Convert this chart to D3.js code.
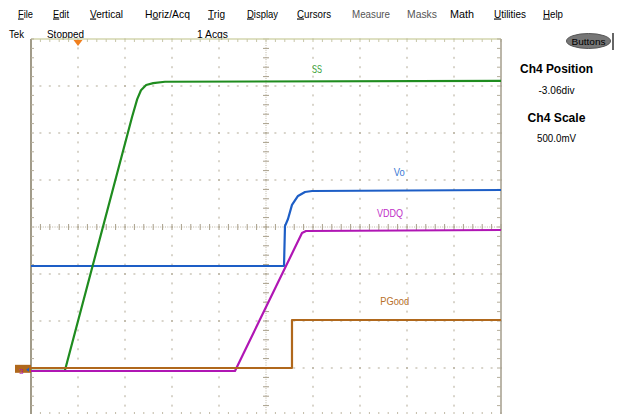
<!DOCTYPE html>
<html><head><meta charset="utf-8">
<script src="https://cdn.jsdelivr.net/npm/d3@7"></script>
<style>
html,body{margin:0;padding:0;background:#fff;}
svg{display:block;}
text{font-family:"Liberation Sans Narrow","Liberation Sans",Arial,sans-serif;}
</style></head>
<body>
<svg id="c" width="618" height="414"></svg>
<script>
// ---- data (x in horizontal divisions 0..10, y in vertical divisions -4..4) ----
const ssX    = [0, 0.72, 2.15, 2.26, 2.34, 2.45, 2.60, 2.85, 10];
const ssY    = [-3.06, -3.06, 2.34, 2.72, 2.91, 3.02, 3.06, 3.09, 3.11];
const voX    = [0, 5.383, 5.404, 5.468, 5.553, 5.681, 5.830, 5.979, 10];
const voY    = [-0.83, -0.83, 0.02, 0.17, 0.47, 0.66, 0.745, 0.766, 0.787];
const vddqX  = [0, 4.34, 5.766, 5.851, 10];
const vddqY  = [-3.064, -3.064, -0.128, -0.085, -0.064];
const pgX    = [0, 5.553, 5.553, 10];
const pgY    = [-3.0, -3.0, -1.979, -1.979];
const seriesNames = ["SS", "Vo", "VDDQ", "PGood"];
const labelPos = [[5.98, 3.28], [7.72, 1.08], [7.36, 0.21], [7.43, -1.66]]; // label anchor (div units)
const menuLabels = ["File","Edit","Vertical","Horiz/Acq","Trig","Display","Cursors","Measure","Masks","Math","Utilities","Help"];
const menuUnderline = [0,0,0,1,0,0,0,-1,-1,-1,0,0];
const statusTexts = ["Tek","Stopped","1 Acqs"];
const infoTitles = ["Ch4 Position","Ch4 Scale"];
const infoValues = ["-3.06div","500.0mV"];
const triggerPos = 1; // division

// ---- layout ----
const L = {left:31, right:501, top:39, bottom:415};
const menuLayout = [[18,15],[53,16],[90,33],[145,45],[208,17],[247,31],[297,34],[352,38],[407,30],[450,24],[494,32],[543,20]];
const colors = {SS:"#1f8c1f", Vo:"#1d5ec6", VDDQ:"#b016b4", PGood:"#b0681c"};
const labelColors = {SS:"#35a035", Vo:"#3a78d4", VDDQ:"#c030c8", PGood:"#b8702a"};

const svg = d3.select("#c");
const x = d3.scaleLinear().domain([0,10]).range([L.left, L.right]);
const y = d3.scaleLinear().domain([-4,4]).range([L.bottom, L.top]);

// ---- menu bar ----
menuLabels.forEach((m,i)=>{
  const t = svg.append("text").attr("x", menuLayout[i][0]).attr("y", 17.5)
    .attr("font-size", (i===7||i===8)?10:11)
    .attr("fill", (i===7||i===8)?"#555":"#000")
    .attr("textLength", menuLayout[i][1]).attr("lengthAdjust","spacingAndGlyphs");
  const u = menuUnderline[i];
  if (u < 0) { t.text(m); }
  else {
    if (u>0) t.append("tspan").text(m.slice(0,u));
    t.append("tspan").style("text-decoration","underline").text(m[u]);
    t.append("tspan").text(m.slice(u+1));
  }
});
// status row
const stLayout = [[9,15],[47,37],[197,31]];
statusTexts.forEach((s,i)=>{
  svg.append("text").attr("x",stLayout[i][0]).attr("y",37.5).attr("font-size",10.5)
    .attr("textLength",stLayout[i][1]).attr("lengthAdjust","spacingAndGlyphs").text(s);
});

// ---- right panel ----
svg.append("ellipse").attr("cx",588.5).attr("cy",41).attr("rx",22).attr("ry",7.5)
  .attr("fill","#767676").attr("stroke","#555").attr("stroke-width",1);
svg.append("text").attr("x",588.5).attr("y",44.5).attr("text-anchor","middle").attr("font-size",9.5)
  .attr("textLength",34).attr("lengthAdjust","spacingAndGlyphs").text("Buttons");
svg.append("line").attr("x1",613).attr("x2",613).attr("y1",33).attr("y2",50).attr("stroke","#333").attr("stroke-width",1.5);
const infoY = [[73,94],[122,142]];
const infoW = [[73,36],[58,39]];
infoTitles.forEach((t,i)=>{
  svg.append("text").attr("x",556.5).attr("y",infoY[i][0]).attr("text-anchor","middle")
    .attr("font-family","Liberation Sans, Arial, sans-serif").attr("font-weight","bold").attr("font-size",12)
    .attr("textLength",infoW[i][0]).attr("lengthAdjust","spacingAndGlyphs").text(t);
  svg.append("text").attr("x",556.5).attr("y",infoY[i][1]).attr("text-anchor","middle").attr("font-size",10.5)
    .attr("textLength",infoW[i][1]).attr("lengthAdjust","spacingAndGlyphs").text(infoValues[i]);
});

// ---- graticule ----
const g = svg.append("g");
const minor = d3.range(0, 50.001, 1).map(d=>d/5); // 0..10 step .2
const minorV = d3.range(-20, 20.001, 1).map(d=>d/5);
const dotC = "#b2aa96";
[1,2,3,4,6,7,8,9].forEach(k=>{
  g.selectAll(null).data(minorV).enter().append("rect")
   .attr("x", x(k)-0.5).attr("y", d=>y(d)-1).attr("width",1).attr("height",2).attr("fill",dotC);
});
[-3,-2,-1,1,2,3].forEach(k=>{
  g.selectAll(null).data(minor).enter().append("rect")
   .attr("x", d=>x(d)-1).attr("y", y(k)-0.5).attr("width",2).attr("height",1).attr("fill",dotC);
});
// center axes
g.append("line").attr("x1",x(0)).attr("x2",x(10)).attr("y1",y(0)).attr("y2",y(0))
  .attr("stroke","#bdb5a2").attr("stroke-dasharray","1 1.35");
g.append("line").attr("x1",x(5)).attr("x2",x(5)).attr("y1",y(-4)).attr("y2",y(4))
  .attr("stroke","#bdb5a2").attr("stroke-dasharray","1 1.35");
g.selectAll(null).data(minor).enter().append("line")
  .attr("x1",d=>x(d)).attr("x2",d=>x(d)).attr("y1",y(0)-3).attr("y2",y(0)+3)
  .attr("stroke","#a89f8a").attr("stroke-width",1);
g.selectAll(null).data(minorV).enter().append("line")
  .attr("y1",d=>y(d)).attr("y2",d=>y(d)).attr("x1",x(5)-3).attr("x2",x(5)+3)
  .attr("stroke","#a89f8a").attr("stroke-width",1);
// frame
g.append("line").attr("x1",x(0)).attr("x2",x(10)).attr("y1",y(4)).attr("y2",y(4)).attr("stroke","#d3d6ae").attr("stroke-width",1.5);
g.selectAll(null).data(minor).enter().append("line")
  .attr("x1",d=>x(d)).attr("x2",d=>x(d)).attr("y1",y(4)).attr("y2",y(4)+3).attr("stroke","#c8c6a8");
g.selectAll(null).data(minor).enter().append("line")
  .attr("x1",d=>x(d)).attr("x2",d=>x(d)).attr("y1",y(-4)).attr("y2",y(-4)-3).attr("stroke","#c0b9a6");
g.append("line").attr("x1",x(0)).attr("x2",x(0)).attr("y1",y(4)).attr("y2",414).attr("stroke","#a19b89").attr("stroke-width",2);
g.selectAll(null).data(minorV).enter().append("line")
  .attr("y1",d=>y(d)).attr("y2",d=>y(d)).attr("x1",x(0)).attr("x2",x(0)+3).attr("stroke","#b5ae9c");
g.append("line").attr("x1",x(10)).attr("x2",x(10)).attr("y1",y(4)).attr("y2",414).attr("stroke","#a59e8c").attr("stroke-width",1.5);
g.selectAll(null).data(minorV).enter().append("line")
  .attr("y1",d=>y(d)).attr("y2",d=>y(d)).attr("x1",x(10)-4).attr("x2",x(10)).attr("stroke","#b5ae9c");

// trigger marker
svg.append("path").attr("d", `M${x(triggerPos)-4.5},${y(4)+1} L${x(triggerPos)+4.5},${y(4)+1} L${x(triggerPos)},${y(4)+7} Z`).attr("fill","#f07f1e");

// ---- traces ----
const line = d3.line().x(d=>x(d[0])).y(d=>y(d[1]));
const traces = [
  {name:"Vo", xs:voX, ys:voY},
  {name:"SS", xs:ssX, ys:ssY},
  {name:"VDDQ", xs:vddqX, ys:vddqY},
  {name:"PGood", xs:pgX, ys:pgY}
];
traces.forEach(t=>{
  svg.append("path").datum(d3.zip(t.xs, t.ys)).attr("d", line)
    .attr("fill","none").attr("stroke", colors[t.name]).attr("stroke-width", 2.2)
    .attr("stroke-linejoin","round");
});
// labels
const lw = {SS:10, Vo:11, VDDQ:26, PGood:29};
seriesNames.forEach((n,i)=>{
  svg.append("text").attr("x", x(labelPos[i][0])).attr("y", y(labelPos[i][1]))
    .attr("fill", labelColors[n]).attr("font-size", 10.5)
    .attr("textLength", lw[n]).attr("lengthAdjust","spacingAndGlyphs").text(n);
});
// ground marker
svg.append("rect").attr("x",15).attr("y",y(-3.06)-6).attr("width",16).attr("height",8).attr("fill","#b0681c");
svg.append("text").attr("x",19).attr("y",y(-3.06)+3).attr("font-size",8).attr("fill","#b016b4").text("3");
svg.append("path").attr("d",`M26,${y(-3.06)-1} l3,-2 l0,4 z`).attr("fill","#1d5ec6");
</script>
</body></html>
